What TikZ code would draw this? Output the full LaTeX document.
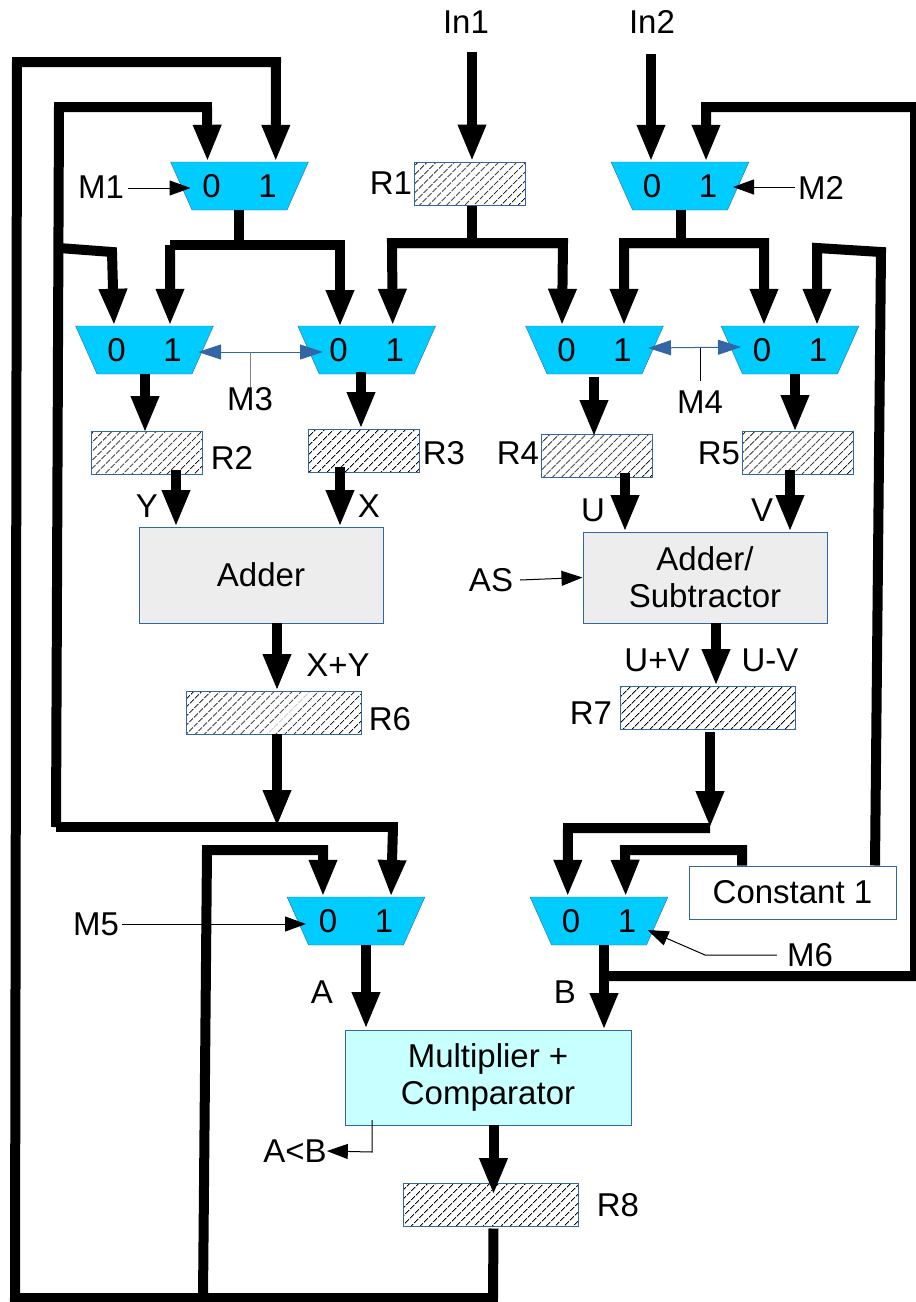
\documentclass[tikz,border=0pt]{standalone}
\usepackage{fontspec}
\setmainfont{Liberation Sans}
\usepackage{xcolor}
\usetikzlibrary{arrows.meta, shapes.geometric, patterns.meta}

\definecolor{edgeblue}{HTML}{3465A4}
\definecolor{muxblue}{HTML}{00CCFF}
\definecolor{boxgrey}{HTML}{EDEDED}
\definecolor{boxcyan}{HTML}{C8FFFF}

\begin{document}
\begin{tikzpicture}[
    x=1pt,
    y=-1pt,
    lbl/.style={
        inner sep=0pt,
        align=center,
        font=\fontsize{33}{37}\selectfont
    },
    mux/.style={
        lbl,
        trapezium,
        trapezium stretches=true,
        trapezium left angle=54.3,
        trapezium right angle=54.3,
        shape border rotate=180,
        minimum width=138pt,
        minimum height=48pt,
        draw=edgeblue,
        fill=muxblue
    },
    reg/.style={
        rectangle,
        draw=edgeblue,
        line width=1pt,
        pattern={Lines[angle=45,distance=6.5pt,line width=1pt]},
        minimum width=111pt,
        minimum height=43pt,
        inner sep=0pt
    },
    longreg/.style={
        reg,
        minimum width=175pt
    },
    block/.style={
        lbl,
        rectangle,
        draw=edgeblue,
        line width=1pt
    },
    bus/.style={
        line width=10pt,
        miter limit=10
    },
    busarrow/.style={
        bus,
        -{Triangle[length=37pt,width=26pt]}
    },
    thin arrow/.style={
        line width=1pt,
        -{Triangle[length=21pt,width=15pt]}
    },
    select arrow/.style={
        line width=1pt,
        draw=edgeblue,
        {Triangle[length=23pt,width=15pt]}-{Triangle[length=23pt,width=15pt]}
    }
]

\useasboundingbox (0,0) rectangle (916,1302);

% Multiplexers

\node[mux] (muxone) at (239.5,186) {0\hspace*{37.7pt}1};
\node[mux] (muxtwo) at (680,186) {0\hspace*{37.7pt}1};
\node[mux] (muxthreea) at (144.5,350) {0\hspace*{37.7pt}1};
\node[mux] (muxthreeb) at (366.7,350) {0\hspace*{37.7pt}1};
\node[mux] (muxfoura) at (594.5,350) {0\hspace*{37.7pt}1};
\node[mux] (muxfourb) at (790,350) {0\hspace*{37.7pt}1};
\node[mux] (muxfive) at (356,921) {0\hspace*{37.7pt}1};
\node[mux] (muxsix) at (599,921) {0\hspace*{37.7pt}1};

% Registers

\node[reg] (regone) at (469.5,183.5) {};
\node[reg] (regtwo) at (147,453) {};
\node[reg] (regthree) at (364,450.5) {};
\node[reg] (regfour) at (596.5,456) {};
\node[reg] (regfive) at (797.5,453) {};
\node[longreg] (regsix) at (273.5,712.5) {};
\node[longreg] (regseven) at (707.5,707.5) {};
\node[longreg] (regeight) at (490.5,1204.5) {};

% Blocks

\node[block, fill=boxgrey, minimum width=244pt, minimum height=96pt] (adder) at (261,575) {Adder};
\node[block, fill=boxgrey, minimum width=244pt, minimum height=91pt] (addsub) at (705,577.5) {Adder/\\Subtractor};
\node[block, fill=boxcyan, minimum width=286pt, minimum height=95pt] (multcomp) at (488,1077.5) {Multiplier +\\Comparator};
\node[block, minimum width=207pt, minimum height=53pt] (constant) at (792.5,892.5) {Constant 1};

% Labels

\node[lbl] (inone) at (466,22) {In1};
\node[lbl] (intwo) at (652,22) {In2};
\node[lbl] (labelmone) at (101,187) {M1};
\node[lbl] (labelmtwo) at (821,188) {M2};
\node[lbl] (labelmthree) at (250,399) {M3};
\node[lbl] (labelmfour) at (700,402) {M4};
\node[lbl] (labelmfive) at (96,924) {M5};
\node[lbl] (labelmsix) at (810,955) {M6};
\node[lbl] (labelas) at (491,580) {AS};
\node[lbl] (labelrone) at (391,183) {R1};
\node[lbl] (labelrtwo) at (232,458) {R2};
\node[lbl] (labelrthree) at (444,453) {R3};
\node[lbl] (labelrfour) at (518,453) {R4};
\node[lbl] (labelrfive) at (719,453) {R5};
\node[lbl] (labelrsix) at (390,719) {R6};
\node[lbl] (labelrseven) at (591,713) {R7};
\node[lbl] (labelreight) at (618,1205) {R8};
\node[lbl] (labely) at (147,506) {Y};
\node[lbl] (labelx) at (369,506) {X};
\node[lbl] (labelu) at (593,510) {U};
\node[lbl] (labelv) at (762,510) {V};
\node[lbl] (labelsum) at (338,665) {X+Y};
\node[lbl] (labelplus) at (657,660) {U+V};
\node[lbl] (labelminus) at (770,660) {U-V};
\node[lbl] (labela) at (322,992) {A};
\node[lbl] (labelb) at (565,992) {B};
\node[lbl] (labelless) at (295,1151) {A<B};

% Wire corners

\coordinate (inonestart) at (472,52);
\coordinate (intwostart) at (651,54);
\coordinate (sumjoin) at (277,827);
\coordinate (diffjoin) at (710,828);
\coordinate (loopbottom) at (203,1298);
\coordinate (bjoin) at (604,976);

% Inputs

\draw[busarrow] (inonestart)--(inonestart |- regone.north);
\draw[busarrow] (intwostart)--(intwostart |- muxtwo.north);

% Upper level buses

\draw[bus] (239,210)--(239,245);
\draw[busarrow] (170,327)++(0,-82) -- ++(170,0) -- (340,327);
\draw[busarrow] (170,245)--([xshift=25.5pt]muxthreea.north);

\draw[bus] ([xshift=2.5pt]regone.south)--(472,243);
\draw[busarrow] (392,243)--(563,243)--([xshift=-32.5pt]muxfoura.north);
\draw[busarrow] (563,243)--(392,243)--([xshift=26pt]muxthreeb.north);

\draw[bus] (681,210)--(681,243);
\draw[busarrow] (624,243)--(764,243)--([xshift=-26pt]muxfourb.north);
\draw[busarrow] (764,243)--(624,243)--([xshift=29.5pt]muxfoura.north);

% Mux to register

\draw[busarrow] (145,374)--(145,433);
\draw[busarrow] (361,372)--(361,429);
\draw[busarrow] (594,377)--(594,437);
\draw[busarrow] (795,374)--(795,432);

% Register to block

\draw[busarrow] (176,470)--(176,527);
\draw[busarrow] (340,467)--(340,527);
\draw[busarrow] (625,473)--(625,532);
\draw[busarrow] (790,470)--(790,532);

\draw[busarrow] (277,623)--(277,691);
\draw[busarrow] (716,623)--(716,686);

% Results

\draw[busarrow] (277,734)--(sumjoin);
\draw[busarrow] (710,732)--(diffjoin);
\draw[bus] (56,827)--(398,827);
\draw[busarrow] (393,827)--(391,897);
\draw[busarrow] (diffjoin)--(568,828)--([xshift=-31.3pt]muxsix.north);
\draw[busarrow] ([xshift=-50.5pt]constant.north)--(742,850)--(625,850)--([xshift=26.7pt]muxsix.north);

% Feedback

\draw[busarrow] ([xshift=3pt,yshift=-2pt]regeight.south)--(493,1298)--(15,1298)--(17,62)--(276,62)--([xshift=36.2pt]muxone.north);
\draw[busarrow] (loopbottom)--(207,850)--(323,850)--([xshift=-33pt]muxfive.north);
\draw[busarrow] (56,827)--(59,107)--(207,107)--([xshift=-32pt]muxone.north);
\draw[busarrow] (59,248)--(112,252)--([xshift=-30.5pt]muxthreea.north);
\draw[busarrow] ([xshift=82.5pt]constant.north)--(881,252)--(817,248)--([xshift=27pt]muxfourb.north);
\draw[busarrow] (bjoin)--(915,976)--(915,107)--(706,107)--([xshift=26pt]muxtwo.north);

% Lower mux to multiplier

\draw[busarrow] (366,945)--(366,1029);
\draw[busarrow] (604,945)--(604,1030);
\draw[bus] (599,976)--(bjoin);
\draw[busarrow] (493.5,1125)--(493.5,1195);

% Select lines

\draw[thin arrow] (labelmone)++(27,1)--(190.5,188);
\draw[thin arrow] (labelmtwo)++(-26,-1)--(733,187);
\draw[select arrow] (198,352)--(323,352);
\draw[line width=1pt, draw=gray] (250,352)--(labelmthree.north);
\draw[select arrow] (648,348)--(741,347);
\draw[line width=1pt, draw=black] (700,348)--(700,381);
\draw[thin arrow] (labelas)++(29,0)--(addsub.west);
\draw[thin arrow] (labelmfive)++(26,0)--(306,924);
\draw[thin arrow] (labelmsix.west)++(-10,0)--(705,955)--(647.5,930);
\draw[thin arrow] (372,1120)--(372,1152)--(labelless.east);

\end{tikzpicture}
\end{document}
